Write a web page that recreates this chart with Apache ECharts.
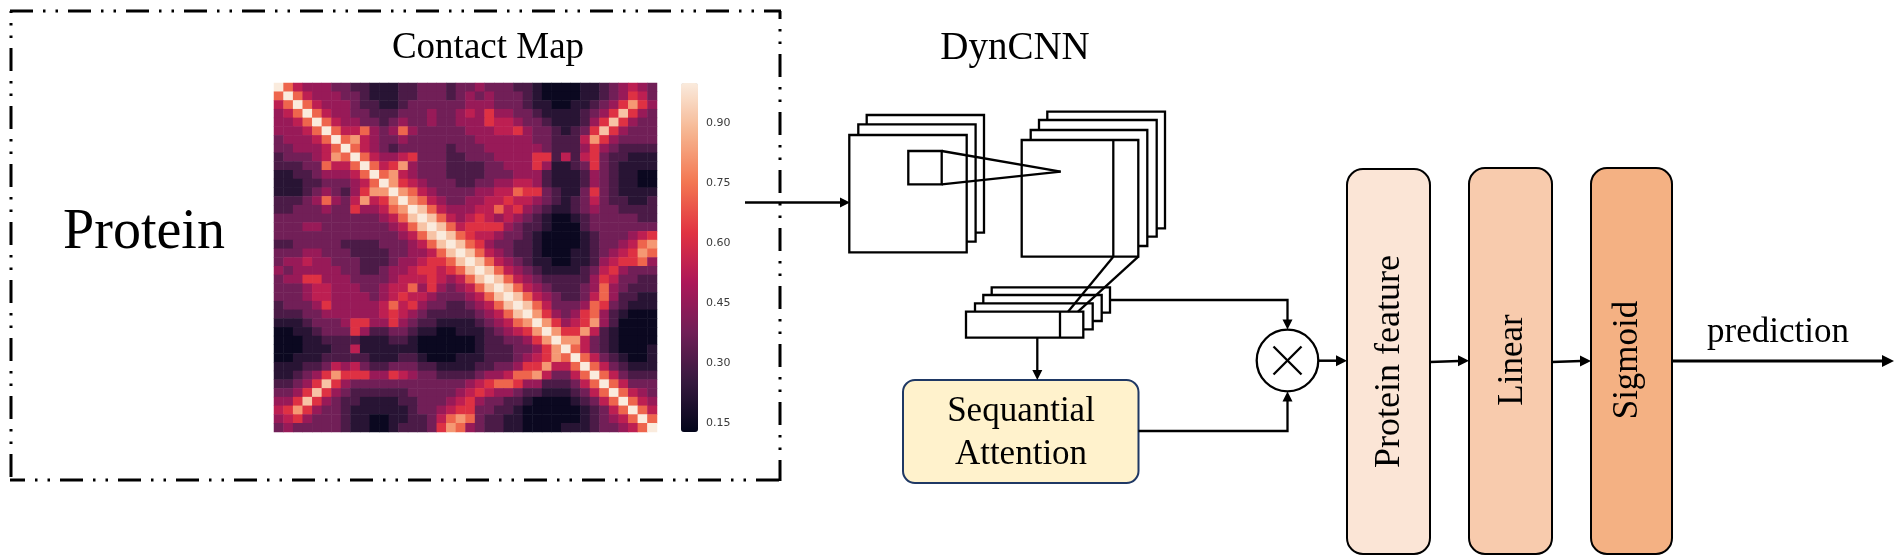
<!DOCTYPE html>
<html>
<head>
<meta charset="utf-8">
<script src="https://cdn.jsdelivr.net/npm/echarts@6/dist/echarts.min.js"></script>
<style>
html,body{margin:0;padding:0;background:#fff;}
#chart{width:1894px;height:559px;}
</style>
</head>
<body>
<div id="chart"></div>
<script>
// ---- data ----
// contact map: 40x40 cells; each char is a level index into levelValues ('X' = 1.0)
const levelValues = [0.15, 0.22, 0.30, 0.38, 0.46, 0.54, 0.62, 0.72, 0.82, 0.91, 1.0];
// rows are stored in groups of ten for readability
const contactRowGroups = [
  ["X754443322","1112233323","3433322100","0011234543"],
  ["7X75444332","1112233323","4343332100","0011234653"],
  ["57X7544432","2112333333","4443332110","0112346864"],
  ["457X754433","2223334334","5464433211","1123469643"],
  ["4457X75443","3234334334","4465543321","1124696433"],
  ["44457X7557","4347433333","4445564332","1236964333"],
  ["344457X785","4334333333","3444444332","2258643333"],
  ["3344457X75","4323333323","3344444432","2246432222"],
  ["23334587X7","5445633322","3334444662","5256322111"],
  ["222337557X","7568433322","2233444641","1236321111"],
  ["1122344457","X785433322","2233344421","1124321100"],
  ["1112233345","7X86543332","2334455421","1124321100"],
  ["1112343246","88X8754333","3445576632","1136321111"],
  ["2223474358","568X875433","4455655432","1235322112"],
  ["2233343364","4578X97544","4557564321","1234332222"],
  ["3333333333","34579X9754","5654543210","0123333322"],
  ["3334433333","334579X975","6666432210","0023333333"],
  ["3333333333","3334579X97","6554332100","0012333456"],
  ["2233333222","23334579X9","7643322100","0012334578"],
  ["3334433322","223344579X","9754322100","0112345687"],
  ["3445443332","2234456679","X975432110","0112456674"],
  ["4344444332","2344566567","9X97543211","1123564333"],
  ["3446644433","3345556545","79X9754322","2224653322"],
  ["3334554443","3455746434","579X975432","2234743222"],
  ["3334554444","3456554333","4579X97543","2235742211"],
  ["2333464444","4575643322","34579X9753","3347632111"],
  ["2223344444","4565432222","234579X864","3467421000"],
  ["1112333466","4464322111","1234578X86","4568420000"],
  ["0011233364","2233211001","11234568X8","6685210000"],
  ["0001122221","1122100000","012233468X","8853210000"],
  ["0001112251","1111100000","0122233468","X753210001"],
  ["0011122222","1112210001","1122234568","7X75321001"],
  ["1112235453","2233322111","1223346685","57X7532111"],
  ["1123468666","4465433222","2344577853","357X753222"],
  ["2234696433","3333333333","4567764422","2357X75333"],
  ["3346964322","2222333334","5654432211","12357X7543"],
  ["4469643221","1112233345","6433221000","012357X754"],
  ["5686433211","1111233456","6332210000","0012357X75"],
  ["4564333211","0011223578","7322110000","00123457X7"],
  ["3433333211","0012223687","4322110000","111233457X"]
];
const colorbarTicks = [0.15, 0.30, 0.45, 0.60, 0.75, 0.90];
const colorbarMin = 0.129;
const colorbarMax = 1.0;
const rocketColors = ['#03051a','#35193e','#701f57','#ad1759','#e13342','#f37651','#f6b48f','#faebdd'];

// ---- build heatmap data from the rows ----
const N = contactRowGroups.length;
const cellIndex = [];
for (let i = 0; i < N; i++) cellIndex.push(String(i));
const heatData = [];
contactRowGroups.forEach((groups, r) => {
  const row = groups.join('');
  for (let c = 0; c < N; c++) {
    const ch = row.charAt(c) || '3';
    const lv = ch === 'X' ? 10 : parseInt(ch, 10);
    heatData.push([c, r, levelValues[lv]]);
  }
});

// ---- diagram helpers ----
const SERIF = '"Liberation Serif", "Times New Roman", serif';
const K = '#000';
const els = [];
function rect(x, y, w, h, opt) {
  opt = opt || {};
  els.push({type:'rect', silent:true, z: opt.z || 10,
    shape:{x:x, y:y, width:w, height:h, r: opt.r || 0},
    style:{fill: opt.fill || '#fff', stroke: opt.stroke || K, lineWidth: opt.lw || 2.3}});
}
function line(x1, y1, x2, y2, opt) {
  opt = opt || {};
  els.push({type:'line', silent:true, z: opt.z || 12,
    shape:{x1:x1, y1:y1, x2:x2, y2:y2},
    style:{stroke: K, lineWidth: opt.lw || 2.3, lineDash: opt.dash || null, lineDashOffset: opt.off || 0, lineCap: 'butt'}});
}
function poly(points, opt) {
  opt = opt || {};
  els.push({type:'polyline', silent:true, z: opt.z || 12,
    shape:{points: points}, style:{stroke: K, lineWidth: opt.lw || 2.3, fill: null}});
}
function head(tx, ty, dir, L, W) {
  L = L || 11; W = W || 5;
  let pts;
  if (dir === 'right') pts = [[tx,ty],[tx-L,ty-W],[tx-L,ty+W]];
  else if (dir === 'down') pts = [[tx,ty],[tx-W,ty-L],[tx+W,ty-L]];
  else if (dir === 'up') pts = [[tx,ty],[tx-W,ty+L],[tx+W,ty+L]];
  els.push({type:'polygon', silent:true, z:13, shape:{points: pts}, style:{fill: K, stroke: null}});
}
function text(str, x, y, size, opt) {
  opt = opt || {};
  els.push({type:'text', silent:true, z:20, x:x, y:y, rotation: opt.rot || 0,
    style:{text:str, font: size + 'px ' + (opt.family || SERIF), fill: opt.color || '#000',
      textAlign:'center', align:'center', textVerticalAlign:'middle', verticalAlign:'middle'}});
}

// dashed frame round the contact map
const dash = [23, 10, 2.5, 10, 2.5, 10];
line(10, 11, 781, 11, {dash: dash, lw: 3});
line(10, 480, 781, 480, {dash: dash, lw: 3, off: 8});
line(11, 11, 11, 481, {dash: dash, lw: 3, off: 21});
line(780, 11, 780, 481, {dash: dash, lw: 3, off: 15});

text('Contact Map', 488, 48, 37);
text('Protein', 144, 233, 56);

// arrow to the CNN
line(745, 202.5, 842, 202.5, {lw: 2.5});
head(850, 202.5, 'right', 10, 5);

// first stack of feature maps
rect(866.7, 115, 117.3, 117.7);
rect(858.3, 124.3, 117.3, 117.4);
rect(849.3, 135, 117.4, 117.3);
rect(908.3, 151, 33.4, 33.3, {z: 11});
// second stack
rect(1047.3, 111.7, 117.7, 116.6);
rect(1039, 120, 117.7, 116.7);
rect(1030.7, 130, 116.6, 116);
rect(1021.7, 140, 116.6, 116.7);
line(1113.3, 140, 1113.3, 256.7);
// kernel projection
line(941.7, 151, 1060.7, 171.7, {z: 14});
line(941.7, 184.3, 1060.7, 171.7, {z: 14});
// third stack
rect(991.7, 287.3, 118.3, 25.4);
rect(983.3, 295, 118.4, 26);
rect(975, 303.3, 117.7, 26);
rect(966, 311.7, 117.3, 26);
line(1060, 311.7, 1060, 337.7);
line(1113.3, 256.7, 1068, 311.7, {z: 14});
line(1138.3, 256.7, 1078, 311.7, {z: 14});

text('DynCNN', 1015, 49, 39);

// to the multiplication node
poly([[1110, 300], [1287.5, 300], [1287.5, 320]]);
head(1287.5, 329.5, 'down', 10, 5);
line(1037.3, 337.7, 1037.3, 371);
head(1037.3, 380, 'down', 10, 5);

// attention box
rect(903, 380, 235.5, 103, {r: 12, fill: '#fff2cc', stroke: '#1f3864', lw: 2});
text('Sequantial', 1021, 411.5, 35);
text('Attention', 1021, 454.5, 35);
poly([[1138.5, 431], [1287.5, 431], [1287.5, 401]]);
head(1287.5, 391.5, 'up', 10, 5);

// multiplication node
els.push({type:'circle', silent:true, z:12, shape:{cx:1287.5, cy:360.5, r:30.8}, style:{fill:'#fff', stroke:K, lineWidth:2.3}});
line(1273.5, 346.5, 1301.5, 374.5, {z: 13});
line(1301.5, 346.5, 1273.5, 374.5, {z: 13});
line(1318.3, 360.7, 1337, 360.7, {lw: 2.5});
head(1347, 360.7, 'right', 11, 5.5);

// dense blocks
rect(1347, 169, 83, 385, {r: 16, fill: '#fbe5d6', lw: 2});
rect(1469, 168, 83, 386, {r: 16, fill: '#f8cbad', lw: 2});
rect(1591, 168, 81, 386, {r: 16, fill: '#f4b183', lw: 2});
line(1430, 362, 1459, 361, {lw: 2.5});
head(1469, 360.7, 'right', 11, 5.5);
line(1552, 362, 1581, 361, {lw: 2.5});
head(1591, 361, 'right', 11, 5.5);
line(1672, 361, 1883, 361, {lw: 3});
head(1894, 361, 'right', 12, 6);

text('Protein feature', 1390, 361.5, 36, {rot: Math.PI / 2});
text('Linear', 1513, 360, 35, {rot: Math.PI / 2});
text('Sigmoid', 1628, 360, 35, {rot: Math.PI / 2});
text('prediction', 1778, 333, 35);

const chart = echarts.init(document.getElementById('chart'), null, {renderer: 'canvas', width: 1894, height: 559});
chart.setOption({
  backgroundColor: '#ffffff',
  animation: false,
  grid: [
    {left: 274, top: 83, width: 383, height: 349, containLabel: false},
    {left: 681, top: 83, width: 17, height: 349, containLabel: false}
  ],
  xAxis: [
    {type: 'category', gridIndex: 0, data: cellIndex, show: false},
    {type: 'value', gridIndex: 1, show: false, min: 0, max: 1}
  ],
  yAxis: [
    {type: 'category', gridIndex: 0, data: cellIndex, inverse: true, show: false},
    {type: 'value', gridIndex: 1, min: colorbarMin, max: colorbarMax, position: 'right',
     axisLine: {show: false}, axisTick: {show: false}, splitLine: {show: false},
     axisLabel: {customValues: colorbarTicks, formatter: v => v.toFixed(2), fontSize: 11, color: '#3a3a3a',
       fontFamily: 'DejaVu Sans', margin: 8}}
  ],
  visualMap: {
    type: 'continuous', seriesIndex: 0, min: colorbarMin, max: colorbarMax,
    calculable: false, orient: 'vertical', left: 681, top: 83, itemWidth: 17, itemHeight: 349,
    padding: 0, text: null, showLabel: false, hoverLink: false,
    inRange: {color: rocketColors}
  },
  series: [
    {type: 'heatmap', xAxisIndex: 0, yAxisIndex: 0, data: heatData, progressive: 0,
     itemStyle: {borderWidth: 0}, emphasis: {disabled: true}, silent: true}
  ],
  graphic: {elements: els}
});
</script>
</body>
</html>
